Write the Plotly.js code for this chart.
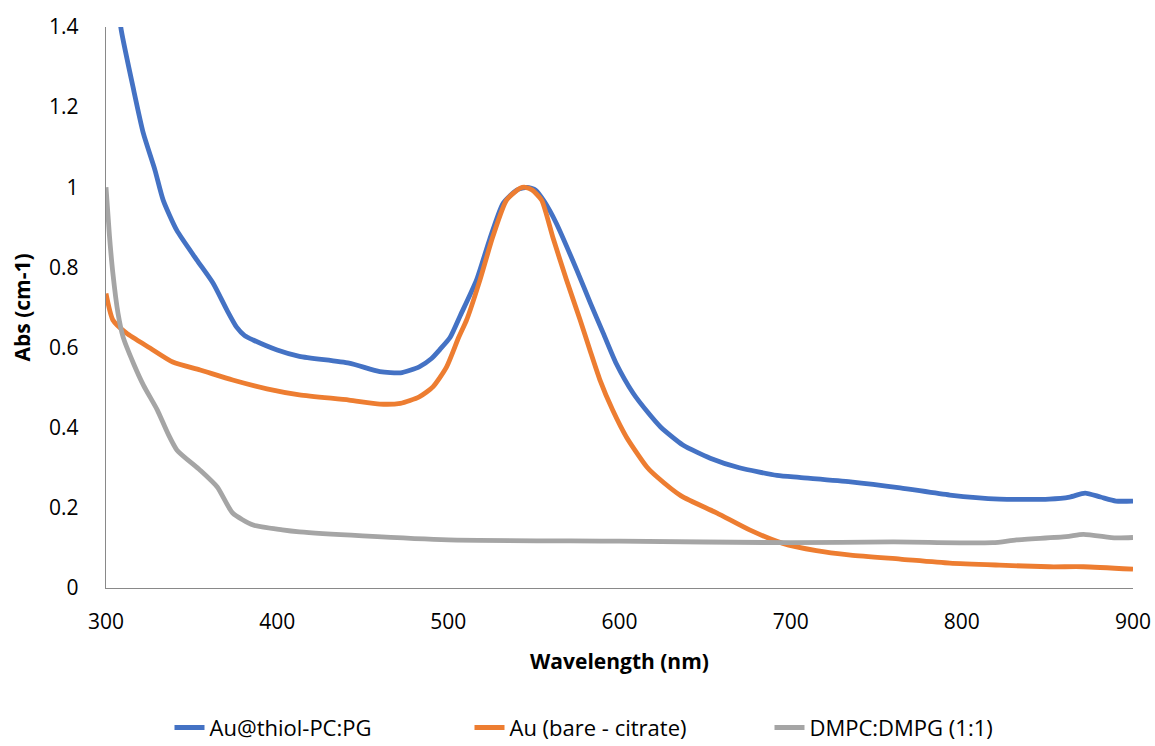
<!DOCTYPE html>
<html>
<head>
<meta charset="utf-8">
<script src="https://cdn.plot.ly/plotly-3.0.1.min.js"></script>
<style>html,body{margin:0;padding:0;background:#fff;}#chart{width:1155px;height:746px;}</style>
</head>
<body>
<div id="chart"></div>
<script>
// Series names
const seriesNames = ["Au@thiol-PC:PG", "Au (bare - citrate)", "DMPC:DMPG (1:1)"];

// Au@thiol-PC:PG
const thiolWl = [307,309,315.8,321.8,328.6,333.4,341.3,353,362.5,370.6,376.3,381,386,400,413,442,460,472,483,490,495,501,507,516.5,524,532,540,546,551,556,563,575,583,590.5,598,608,617,624,637,653,670,692,705,735,764,793,822,851,863,872,881,890,900];
const thiolAbs = [1.45,1.39,1.25,1.135,1.043,0.968,0.893,0.819,0.761,0.694,0.651,0.63,0.619,0.594,0.578,0.561,0.54,0.537,0.552,0.572,0.595,0.625,0.68,0.769,0.868,0.96,0.993,1.0,0.993,0.965,0.911,0.794,0.711,0.636,0.561,0.486,0.436,0.402,0.357,0.324,0.30,0.281,0.276,0.265,0.25,0.232,0.222,0.222,0.227,0.237,0.227,0.217,0.217];

// Au (bare - citrate)
const bareWl = [300,304,312,325.7,339,355,374,394,413,442,460,472,483,491,499,506,510.7,518.5,526,534,542,545,549,554.5,561,569,577,582.7,588.6,596,604,616,622,636,657,676,695,715,735,764,793,822,851,871,900];
const bareAbs = [0.735,0.669,0.636,0.599,0.564,0.544,0.519,0.497,0.482,0.469,0.459,0.461,0.477,0.502,0.552,0.625,0.669,0.769,0.877,0.968,0.998,1.0,0.993,0.968,0.876,0.769,0.669,0.594,0.519,0.444,0.377,0.302,0.277,0.23,0.187,0.145,0.112,0.093,0.082,0.072,0.062,0.057,0.053,0.053,0.047];

// DMPC:DMPG (1:1)
const lipidWl = [300,302,304,307,310,316,322,330,336,341.5,355,365,374,386,403,413,450,500,600,700,760,818,832,861,871,890,900];
const lipidAbs = [1.0,0.88,0.786,0.686,0.626,0.561,0.505,0.444,0.387,0.344,0.294,0.252,0.187,0.157,0.145,0.14,0.13,0.12,0.117,0.113,0.115,0.113,0.12,0.128,0.134,0.125,0.126];

const colors = ["#4472C4", "#ED7D31", "#A5A5A5"];
const xs = [thiolWl, bareWl, lipidWl];
const ys = [thiolAbs, bareAbs, lipidAbs];

const traces = seriesNames.map((n, i) => ({
  x: xs[i], y: ys[i], name: n, type: "scatter", mode: "lines",
  line: {color: colors[i], width: 4.8, shape: "spline", smoothing: 0.6},
  hoverinfo: "skip"
}));

const layout = {
  width: 1155, height: 746,
  margin: {l: 106, r: 22, t: 27, b: 158, autoexpand: false},
  paper_bgcolor: "#fff", plot_bgcolor: "#fff",
  font: {family: "Open Sans, sans-serif", color: "#000", size: 21},
  showlegend: true,
  legend: {orientation: "h", x: 0.5, xanchor: "center", y: -0.249, yanchor: "middle",
           font: {size: 22, color: "#000"}, traceorder: "normal",
           entrywidth: 255, entrywidthmode: "pixels"},
  xaxis: {
    range: [300, 900], dtick: 100, tick0: 300, showgrid: false, zeroline: false,
    showline: true, linecolor: "#898989", linewidth: 1.3, ticks: "",
    tickfont: {size: 21}, ticklabelstandoff: 14,
    title: {text: "<b>Wavelength (nm)</b>", font: {size: 21}, standoff: 20}
  },
  yaxis: {
    range: [0, 1.4], dtick: 0.2, tick0: 0, showgrid: false, zeroline: false,
    showline: true, linecolor: "#898989", linewidth: 1.3, ticks: "",
    tickfont: {size: 21}, ticklabelstandoff: 22,
    title: {text: "<b>Abs (cm-1)</b>", font: {size: 21}, standoff: 12}
  }
};

Plotly.newPlot("chart", traces, layout, {displayModeBar: false, staticPlot: true});
</script>
</body>
</html>
